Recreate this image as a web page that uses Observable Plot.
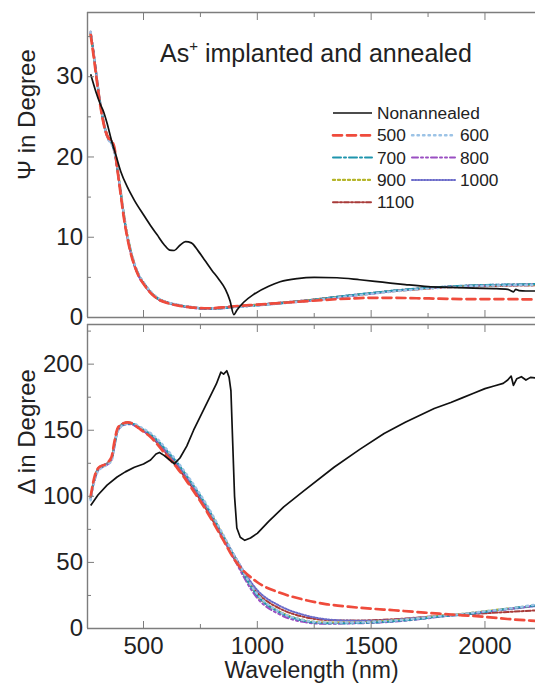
<!DOCTYPE html>
<html><head><meta charset="utf-8">
<script src="https://cdn.jsdelivr.net/npm/d3@7"></script>
<script src="https://cdn.jsdelivr.net/npm/@observablehq/plot@0.6"></script>
<style>
body{margin:0;background:#fff;}
#wrap{position:relative;width:535px;height:689px;overflow:hidden;font-family:"Liberation Sans",Arial,sans-serif;background:#fff;}
#wrap svg{position:absolute;left:0;max-width:none;}
</style></head><body><div id="wrap"></div>
<script>
// ---------- data ----------
const wavelength = [268, 285, 300, 315, 330, 345, 360, 372, 385, 400, 415, 430, 445, 460, 480, 500,
  530, 560, 600, 650, 700, 780, 850, 900,
  1000, 1100, 1200, 1300, 1400, 1500, 1600, 1700, 1800, 1900, 2000, 2100, 2200, 2250];

const seriesNames = ["500", "600", "700", "800", "900", "1000", "1100"];

const psi500 = [35.2, 31.7, 28.4, 25.6, 23.5, 22.4, 22.0, 21.2, 18.5, 15.3, 12.2, 9.8, 7.9, 6.5, 5.1, 4.2,
  3.1, 2.35, 1.85, 1.5, 1.3, 1.15, 1.25, 1.4,
  1.6, 1.8, 2.0, 2.2, 2.35, 2.45, 2.45, 2.4, 2.35, 2.3, 2.3, 2.3, 2.25, 2.25];
const psi600 = [35.6, 32.1, 28.7, 25.9, 23.7, 22.2, 21.6, 20.6, 18.7, 15.8, 12.7, 10.2, 8.3, 6.8, 5.3, 4.4,
  3.3, 2.5, 1.95, 1.6, 1.35, 1.15, 1.2, 1.3,
  1.5, 1.75, 2.0, 2.3, 2.65, 2.95, 3.25, 3.5, 3.7, 3.85, 3.95, 4.0, 4.05, 4.05];
const psi700 = [35.4, 32.0, 28.6, 25.8, 23.6, 22.3, 21.7, 20.7, 18.5, 15.6, 12.5, 10.1, 8.2, 6.7, 5.3, 4.4,
  3.25, 2.45, 1.9, 1.55, 1.3, 1.1, 1.15, 1.3,
  1.5, 1.75, 2.05, 2.4, 2.75, 3.05, 3.35, 3.6, 3.8, 3.95, 4.05, 4.1, 4.15, 4.2];
const psi800 = [35.5, 32.1, 28.7, 25.7, 23.5, 22.2, 21.7, 20.7, 18.6, 15.5, 12.4, 9.9, 8.0, 6.5, 5.1, 4.2,
  3.15, 2.35, 1.85, 1.5, 1.25, 1.05, 1.15, 1.3,
  1.5, 1.75, 2.0, 2.3, 2.65, 2.95, 3.3, 3.55, 3.75, 3.9, 4.0, 4.05, 4.1, 4.1];
const psi900 = [35.3, 31.9, 28.5, 25.7, 23.6, 22.3, 21.8, 20.8, 18.7, 15.7, 12.6, 10.1, 8.2, 6.6, 5.2, 4.3,
  3.2, 2.4, 1.9, 1.55, 1.3, 1.1, 1.2, 1.35,
  1.55, 1.8, 2.05, 2.35, 2.7, 3.0, 3.3, 3.55, 3.75, 3.9, 4.0, 4.05, 4.1, 4.15];
const psi1000 = [35.4, 32.0, 28.6, 25.8, 23.7, 22.4, 21.9, 20.9, 18.6, 15.6, 12.5, 10.0, 8.1, 6.6, 5.2, 4.3,
  3.2, 2.45, 1.95, 1.6, 1.35, 1.15, 1.25, 1.4,
  1.6, 1.85, 2.1, 2.4, 2.75, 3.05, 3.35, 3.6, 3.8, 3.95, 4.05, 4.1, 4.1, 4.1];
const psi1100 = [35.6, 32.2, 28.8, 25.9, 23.8, 22.5, 22.0, 21.0, 18.4, 15.4, 12.3, 9.9, 8.0, 6.5, 5.1, 4.2,
  3.1, 2.35, 1.9, 1.55, 1.3, 1.15, 1.25, 1.4,
  1.6, 1.85, 2.1, 2.4, 2.7, 3.0, 3.3, 3.5, 3.7, 3.8, 3.9, 3.95, 4.0, 4.0];

const delta500 = [100, 115, 121, 123, 124, 126, 130, 141, 151, 154, 155.5, 156, 155.5, 154, 151.5, 149,
  145, 139.5, 131, 121, 109, 88, 67, 52,
  35, 27, 22, 18.5, 16.5, 15, 13.8, 12.5, 11.2, 10, 8.8, 7.2, 6, 5.5];
const delta600 = [97, 112, 119, 121.5, 123, 124.5, 127, 137, 148, 152.5, 154, 155, 155.5, 155, 153, 151,
  148, 143.5, 136, 126, 114, 93, 71, 55,
  26, 12.5, 6.5, 4.5, 4.5, 5, 6, 7.5, 9.5, 11, 13, 15, 17.5, 19];
const delta700 = [98, 113, 120, 122, 123.5, 125, 128, 138, 149, 153, 154.5, 155, 155, 154.5, 152.5, 150.5,
  147, 142.5, 135, 125, 113, 92, 70, 54,
  25, 12, 6, 4, 4, 4.5, 5.5, 7, 9, 10.5, 12.5, 15, 17, 18];
const delta800 = [98, 112, 119.5, 121.5, 123, 124.5, 127.5, 137.5, 148.5, 152.5, 154, 154.5, 154.5, 153.5, 151.5, 149.5,
  146, 141.5, 134, 124, 112, 91, 69, 52,
  23, 10.5, 5, 3.5, 3.8, 4.2, 5.2, 6.8, 8.8, 10.5, 12.5, 14.8, 16.8, 18];
const delta900 = [99, 113.5, 120, 122, 123.5, 125, 128.5, 138.5, 149, 153, 154.5, 155, 155, 154, 152, 150,
  146.5, 142, 134.5, 124.5, 112.5, 91.5, 70, 54,
  25, 12.5, 6.5, 4.5, 4.5, 5, 6, 7.5, 9.5, 11, 13, 15, 17, 18];
const delta1000 = [98, 113, 120.5, 122.5, 124, 125.5, 128.5, 138.5, 149.5, 153.5, 155, 155.5, 155, 154, 152, 150,
  146.5, 141.5, 134, 124, 112, 91, 70, 55,
  29, 17, 10.5, 7, 6, 5.8, 6.5, 8, 9.5, 11, 12.8, 14.5, 16.5, 17.5];
const delta1100 = [99, 114, 121, 123, 124, 125.5, 129, 139.5, 150.5, 154, 155.5, 156, 155.5, 154, 152, 149.5,
  145.5, 140.5, 132.5, 122, 110, 89, 67.5, 52.5,
  27, 15, 9, 6.5, 6, 6.2, 7, 8.2, 9.5, 10.5, 11.5, 12.5, 13.5, 14];

const nonannealedName = "Nonannealed";
const nonWavelengthPsi = [268, 290, 310, 325, 340, 360, 377, 400, 430, 460, 500, 530, 560, 590, 615, 635, 660, 685, 710, 740,
  770, 800, 830, 860, 880, 897, 910, 940, 985, 1050, 1100, 1175, 1250, 1350, 1450, 1550, 1650, 1750, 1850, 1950,
  2050, 2100, 2125, 2135, 2150, 2180, 2250];
const nonPsi = [30.3, 28.2, 26.6, 25.6, 24.2, 22.0, 20.4, 18.2, 16.2, 14.6, 12.8, 11.5, 10.3, 9.1, 8.4, 8.35, 9.0, 9.45, 9.3, 8.3,
  7.1, 5.9, 4.8, 3.5, 2.1, 0.35, 0.9, 1.9, 2.9, 3.9, 4.45, 4.85, 5.0, 4.95, 4.7, 4.4, 4.1, 3.85, 3.75, 3.65,
  3.6, 3.5, 3.2, 3.5, 3.35, 3.3, 3.3];
const nonWavelengthDelta = [268, 300, 340, 384, 420, 460, 500, 531, 555, 570, 590, 615, 635, 660, 690, 720, 760, 800, 820, 840,
  852, 866, 876, 884, 892, 900, 910, 925, 945, 970, 1000, 1050, 1116, 1200, 1337, 1450, 1557, 1650, 1777, 1850,
  1900, 1950, 2000, 2040, 2080, 2100, 2115, 2125, 2140, 2160, 2180, 2200, 2250];
const nonDelta = [93, 101, 108.5, 114.6, 118.5, 122, 124.5, 127.5, 132, 133.2, 131, 127.5, 124.5, 129, 138, 150, 164, 178, 185, 194,
  192.5, 195, 190, 180, 140, 100, 76, 69, 66.7, 68.5, 72, 81, 92, 103.5, 122, 135.5, 147.5, 156, 166.5, 171,
  174.5, 178, 181.5, 183.5, 185.5, 188, 191, 184, 189, 190.5, 188, 190, 189];

const xTicks = [500, 1000, 1500, 2000];
const xMinorTicks = [750, 1250, 1750];
const psiTicks = [0, 10, 20, 30];
const psiMinorTicks = [5, 15, 25, 35];
const deltaTicks = [0, 50, 100, 150, 200];
const deltaMinorTicks = [25, 75, 125, 175, 225];
const xDomain = [254, 2222];
const psiDomain = [0, 38];
const deltaDomain = [0, 230];

const titleMain = "As";
const titleSup = "+";
const titleRest = " implanted and annealed";
const psiLabel = "Ψ in Degree";
const deltaLabel = "Δ in Degree";
const xLabel = "Wavelength (nm)";
const legendOrder = [["Nonannealed"], ["500", "600"], ["700", "800"], ["900", "1000"], ["1100"]];

// ---------- styles ----------
const styles = {
  "Nonannealed": {stroke: "#111", dash: null, width: 1.7},
  "500": {stroke: "#ef4b3c", dash: "9,5", width: 2.7},
  "600": {stroke: "#9cc3e6", dash: "1.5,4", width: 2.4},
  "700": {stroke: "#1f95ad", dash: "8,3,2,3", width: 2},
  "800": {stroke: "#9a4fc2", dash: "6,3,2,3,2,3", width: 2},
  "900": {stroke: "#b5b52a", dash: "2,3", width: 2.3},
  "1000": {stroke: "#6a6ac9", dash: "1.2,1.8", width: 2},
  "1100": {stroke: "#a83a38", dash: "5,2,2,2", width: 2}
};
const psiBySeries = {"500": psi500, "600": psi600, "700": psi700, "800": psi800, "900": psi900, "1000": psi1000, "1100": psi1100};
const deltaBySeries = {"500": delta500, "600": delta600, "700": delta700, "800": delta800, "900": delta900, "1000": delta1000, "1100": delta1100};
const frameColor = "#7d7d7d";
const textColor = "#222";
const FONT = "Liberation Sans, Arial, sans-serif";

function seriesLine(wl, vals, name, curve) {
  const st = styles[name];
  return Plot.line(wl.map((w, i) => ({w, v: vals[i]})), {
    x: "w", y: "v", stroke: st.stroke, strokeWidth: st.width,
    strokeDasharray: st.dash, strokeLinecap: st.dash ? "round" : "butt",
    curve: curve || "monotone-x", clip: true
  });
}

function panel(o) {
  const order = ["1100", "1000", "900", "800", "700", "600", "500"];
  const marks = [
    ...order.map(n => seriesLine(wavelength, o.bySeries[n], n)),
    seriesLine(o.nonWl, o.nonVals, "Nonannealed", o.nonCurve),
    Plot.ruleY(o.yDomain, {stroke: frameColor, strokeWidth: 1.4}),
    Plot.ruleX([xDomain[0]], {stroke: frameColor, strokeWidth: 1.4}),
    Plot.axisY(o.yTicks, {anchor: "left", tickSize: -7, tickPadding: 11.5, stroke: frameColor, fill: textColor, fontSize: 24, label: null}),
    Plot.axisY(o.yMinor, {anchor: "left", tickSize: -4, tickFormat: () => "", stroke: frameColor, label: null}),
    Plot.axisX(xTicks, {anchor: "bottom", tickSize: -7, tickPadding: 15.5, stroke: frameColor, fill: textColor, fontSize: 24,
      tickFormat: o.xLabels ? (d => String(d)) : (() => ""), label: null}),
    Plot.axisX(xMinorTicks, {anchor: "bottom", tickSize: -4, tickFormat: () => "", stroke: frameColor, label: null}),
    Plot.axisX(xTicks, {anchor: "top", tickSize: -7, tickFormat: () => "", stroke: frameColor, label: null}),
    Plot.axisX(xMinorTicks, {anchor: "top", tickSize: -4, tickFormat: () => "", stroke: frameColor, label: null}),
    Plot.text([o.yLabel], {frameAnchor: "left", text: d => d, rotate: -90, dx: -60, dy: o.labelDy, fontSize: 24, fill: textColor})
  ];
  if (o.xLabels) {
    marks.push(Plot.text([xLabel], {frameAnchor: "bottom", text: d => d, lineAnchor: "top", dy: 33, fontSize: 23, fill: textColor}));
  }
  return Plot.plot({
    width: 535, height: o.height,
    marginLeft: 87, marginRight: 0, marginTop: o.marginTop, marginBottom: o.marginBottom,
    x: {domain: xDomain, axis: null},
    y: {domain: o.yDomain, axis: null},
    style: {fontFamily: FONT, fontSize: "23px", color: textColor, background: "transparent", overflow: "visible"},
    marks
  });
}

const wrap = document.getElementById("wrap");
const psiChart = panel({height: 320, marginTop: 12, marginBottom: 3, yDomain: psiDomain, yTicks: psiTicks, yMinor: psiMinorTicks,
  bySeries: psiBySeries, nonWl: nonWavelengthPsi, nonVals: nonPsi, yLabel: psiLabel, labelDy: 15, xLabels: false});
psiChart.style.top = "0px";
wrap.appendChild(psiChart);
const deltaChart = panel({height: 369, marginTop: 4, marginBottom: 61, yDomain: deltaDomain, yTicks: deltaTicks, yMinor: deltaMinorTicks,
  bySeries: deltaBySeries, nonWl: nonWavelengthDelta, nonVals: nonDelta, nonCurve: "linear", yLabel: deltaLabel, labelDy: 18, xLabels: true});
deltaChart.style.top = "320px";
wrap.appendChild(deltaChart);

// ---------- title and legend overlay ----------
const ov = d3.select(wrap).append("svg").attr("width", 535).attr("height", 320)
  .style("top", "0px").style("pointer-events", "none").style("font-family", FONT);
const title = ov.append("text").attr("x", 160).attr("y", 62).attr("fill", textColor).attr("font-size", 25).style("white-space", "pre");
title.append("tspan").text(titleMain);
title.append("tspan").attr("font-size", 15).attr("dy", -11).text(titleSup);
title.append("tspan").attr("dy", 11).text(titleRest);

const colX = [333, 412];
const lineLen = [39, 43];
const rowY0 = 113, rowStep = 22.3;
legendOrder.forEach((row, r) => {
  row.forEach((name, c) => {
    const st = styles[name];
    const y = rowY0 + r * rowStep;
    ov.append("line").attr("x1", colX[c]).attr("x2", colX[c] + lineLen[c]).attr("y1", y).attr("y2", y)
      .attr("stroke", st.stroke).attr("stroke-width", st.width)
      .attr("stroke-dasharray", st.dash).attr("stroke-linecap", st.dash ? "round" : "butt");
    ov.append("text").attr("x", colX[c] + lineLen[c] + 5).attr("y", y).attr("dy", "0.35em")
      .attr("font-size", 17.3).attr("fill", textColor).text(name);
  });
});
</script></body></html>
